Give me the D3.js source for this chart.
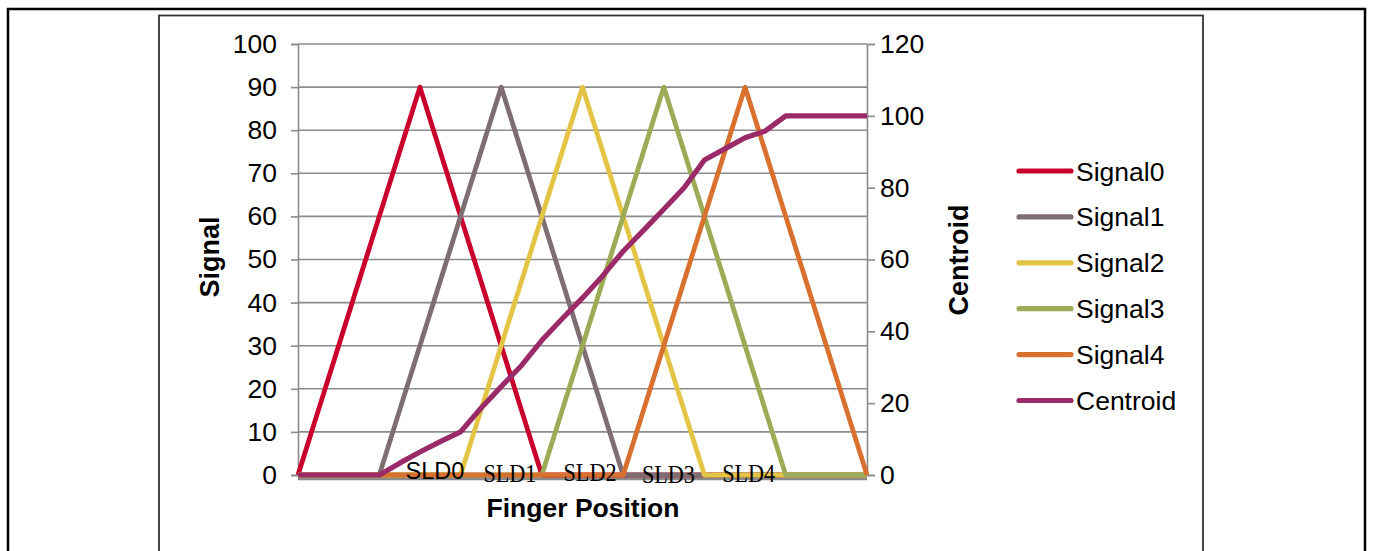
<!DOCTYPE html>
<html>
<head>
<meta charset="utf-8">
<script src="https://cdn.jsdelivr.net/npm/d3@7"></script>
<style>
  html, body { margin: 0; padding: 0; background: #fff; }
  #chart { width: 1373px; height: 551px; }
  text { font-family: "Liberation Sans", Arial, sans-serif; }
</style>
</head>
<body>
<div id="chart"></div>
<script>
// finger positions sampled along the slider (29 steps)
const positions = d3.range(29);

const signal0 = [0,15,30,45,60,75,90,75,60,45,30,15,0,0,0,0,0,0,0,0,0,0,0,0,0,0,0,0,0];
const signal1 = [0,0,0,0,0,15,30,45,60,75,90,75,60,45,30,15,0,0,0,0,0,0,0,0,0,0,0,0,0];
const signal2 = [0,0,0,0,0,0,0,0,0,15,30,45,60,75,90,75,60,45,30,15,0,0,0,0,0,0,0,0,0];
const signal3 = [0,0,0,0,0,0,0,0,0,0,0,0,0,15,30,45,60,75,90,75,60,45,30,15,0,0,0,0,0];
const signal4 = [0,0,0,0,0,0,0,0,0,0,0,0,0,0,0,0,0,15,30,45,60,75,90,75,60,45,30,15,0];
const centroid = [0,0,0,0,0,3.3,6.4,9.3,12,18.6,24.6,30.5,37.5,43.5,49.3,55.5,62.3,68.1,74,80,87.7,90.8,93.9,95.8,100,100,100,100,100];

const seriesNames = ["Signal0","Signal1","Signal2","Signal3","Signal4","Centroid"];
const seriesColors = ["#C9002C","#7E6E72","#E3C444","#9BAB56","#D8702E","#9B2A68"];

const signalTicks = d3.range(0, 101, 10);
const centroidTicks = d3.range(0, 121, 20);

const sliderLabels = ["SLD0","SLD1","SLD2","SLD3","SLD4"];
const sliderLabelPos = [6.74, 10.43, 14.37, 18.23, 22.18];

const width = 1373, height = 551;
const plot = { left: 298, right: 867, top: 44, bottom: 475 };

const svg = d3.select("#chart").append("svg")
    .attr("width", width)
    .attr("height", height);

// page frames
svg.append("rect")
    .attr("x", 8).attr("y", 9)
    .attr("width", 1357).attr("height", 600)
    .attr("fill", "none").attr("stroke", "#000").attr("stroke-width", 2.5);
svg.append("rect")
    .attr("x", 159).attr("y", 15.5)
    .attr("width", 1044).attr("height", 600)
    .attr("fill", "none").attr("stroke", "#333").attr("stroke-width", 1.8);

// scales
const x = d3.scaleLinear().domain([0, 28]).range([plot.left, plot.right]);
const y = d3.scaleLinear().domain([0, 100]).range([plot.bottom, plot.top]);
const y2 = d3.scaleLinear().domain([0, 120]).range([plot.bottom, plot.top]);

// gridlines
svg.append("g")
    .selectAll("line")
    .data(signalTicks)
    .enter().append("line")
    .attr("x1", plot.left).attr("x2", plot.right)
    .attr("y1", d => y(d)).attr("y2", d => y(d))
    .attr("stroke", "#8c8c8c").attr("stroke-width", 1.6);

// left axis
const yAxis = svg.append("g")
    .attr("transform", `translate(${plot.left},0)`)
    .call(d3.axisLeft(y).tickValues(signalTicks).tickSize(7).tickPadding(14));
yAxis.select(".domain").attr("stroke", "#8c8c8c").attr("stroke-width", 1.6);
yAxis.selectAll(".tick line").attr("stroke", "#8c8c8c").attr("stroke-width", 1.6);
yAxis.selectAll(".tick text")
    .style("font-family", "Liberation Sans, Arial, sans-serif")
    .style("font-size", "26.5px").attr("fill", "#000");

// right axis
const y2Axis = svg.append("g")
    .attr("transform", `translate(${plot.right},0)`)
    .call(d3.axisRight(y2).tickValues(centroidTicks).tickSize(8).tickPadding(5));
y2Axis.select(".domain").attr("stroke", "#8c8c8c").attr("stroke-width", 1.6);
y2Axis.selectAll(".tick line").attr("stroke", "#8c8c8c").attr("stroke-width", 1.6);
y2Axis.selectAll(".tick text")
    .style("font-family", "Liberation Sans, Arial, sans-serif")
    .style("font-size", "26.5px").attr("fill", "#000");

// bottom axis line (thick grey, no ticks)
svg.append("line")
    .attr("x1", plot.left).attr("x2", plot.right)
    .attr("y1", y(0) + 3).attr("y2", y(0) + 3)
    .attr("stroke", "#8a8a8a").attr("stroke-width", 4.5);

// series
const line = d3.line().x((d, i) => x(positions[i]));
const signals = [signal0, signal1, signal2, signal3, signal4];

signals.forEach((s, j) => {
    svg.append("path")
        .datum(s)
        .attr("fill", "none")
        .attr("stroke", seriesColors[j])
        .attr("stroke-width", 4.8)
        .attr("stroke-linejoin", "round")
        .attr("d", line.y(d => y(d)));
});

svg.append("path")
    .datum(centroid)
    .attr("fill", "none")
    .attr("stroke", seriesColors[5])
    .attr("stroke-width", 5.2)
    .attr("stroke-linejoin", "round")
    .attr("d", line.y(d => y2(d)));

// slider labels (text boxes placed along the axis)
const sliderBase = [479, 481.5, 480.5, 483, 482];
svg.append("g")
    .selectAll("text")
    .data(sliderLabels)
    .enter().append("text")
    .attr("x", (d, i) => x(sliderLabelPos[i]))
    .attr("y", (d, i) => sliderBase[i])
    .attr("text-anchor", "middle")
    .attr("textLength", (d, i) => i === 0 ? 59 : 53)
    .attr("lengthAdjust", "spacingAndGlyphs")
    .style("font-family", (d, i) => i === 0 ? "Liberation Sans, Arial, sans-serif" : "Liberation Serif, Times New Roman, serif")
    .style("font-size", (d, i) => i === 0 ? "23px" : "25.5px")
    .text(d => d);

// axis titles
svg.append("text")
    .attr("transform", "translate(219,257) rotate(-90)")
    .attr("text-anchor", "middle")
    .style("font-size", "27px").style("font-weight", "bold")
    .text("Signal");
svg.append("text")
    .attr("transform", "translate(968,260) rotate(-90)")
    .attr("text-anchor", "middle")
    .style("font-size", "27px").style("font-weight", "bold")
    .text("Centroid");
svg.append("text")
    .attr("x", 583)
    .attr("y", 517)
    .attr("text-anchor", "middle")
    .style("font-size", "26.5px").style("font-weight", "bold")
    .text("Finger Position");

// legend
const legend = svg.append("g").attr("transform", "translate(1017,171)");
const item = legend.selectAll("g")
    .data(seriesNames)
    .enter().append("g")
    .attr("transform", (d, i) => `translate(0,${i * 45.9})`);
item.append("line")
    .attr("x1", 2).attr("x2", 54)
    .attr("stroke", (d, i) => seriesColors[i])
    .attr("stroke-width", 5.2)
    .attr("stroke-linecap", "round");
item.append("text")
    .attr("x", 59).attr("y", 9.5)
    .style("font-size", "26.5px")
    .text(d => d);
</script>
</body>
</html>
